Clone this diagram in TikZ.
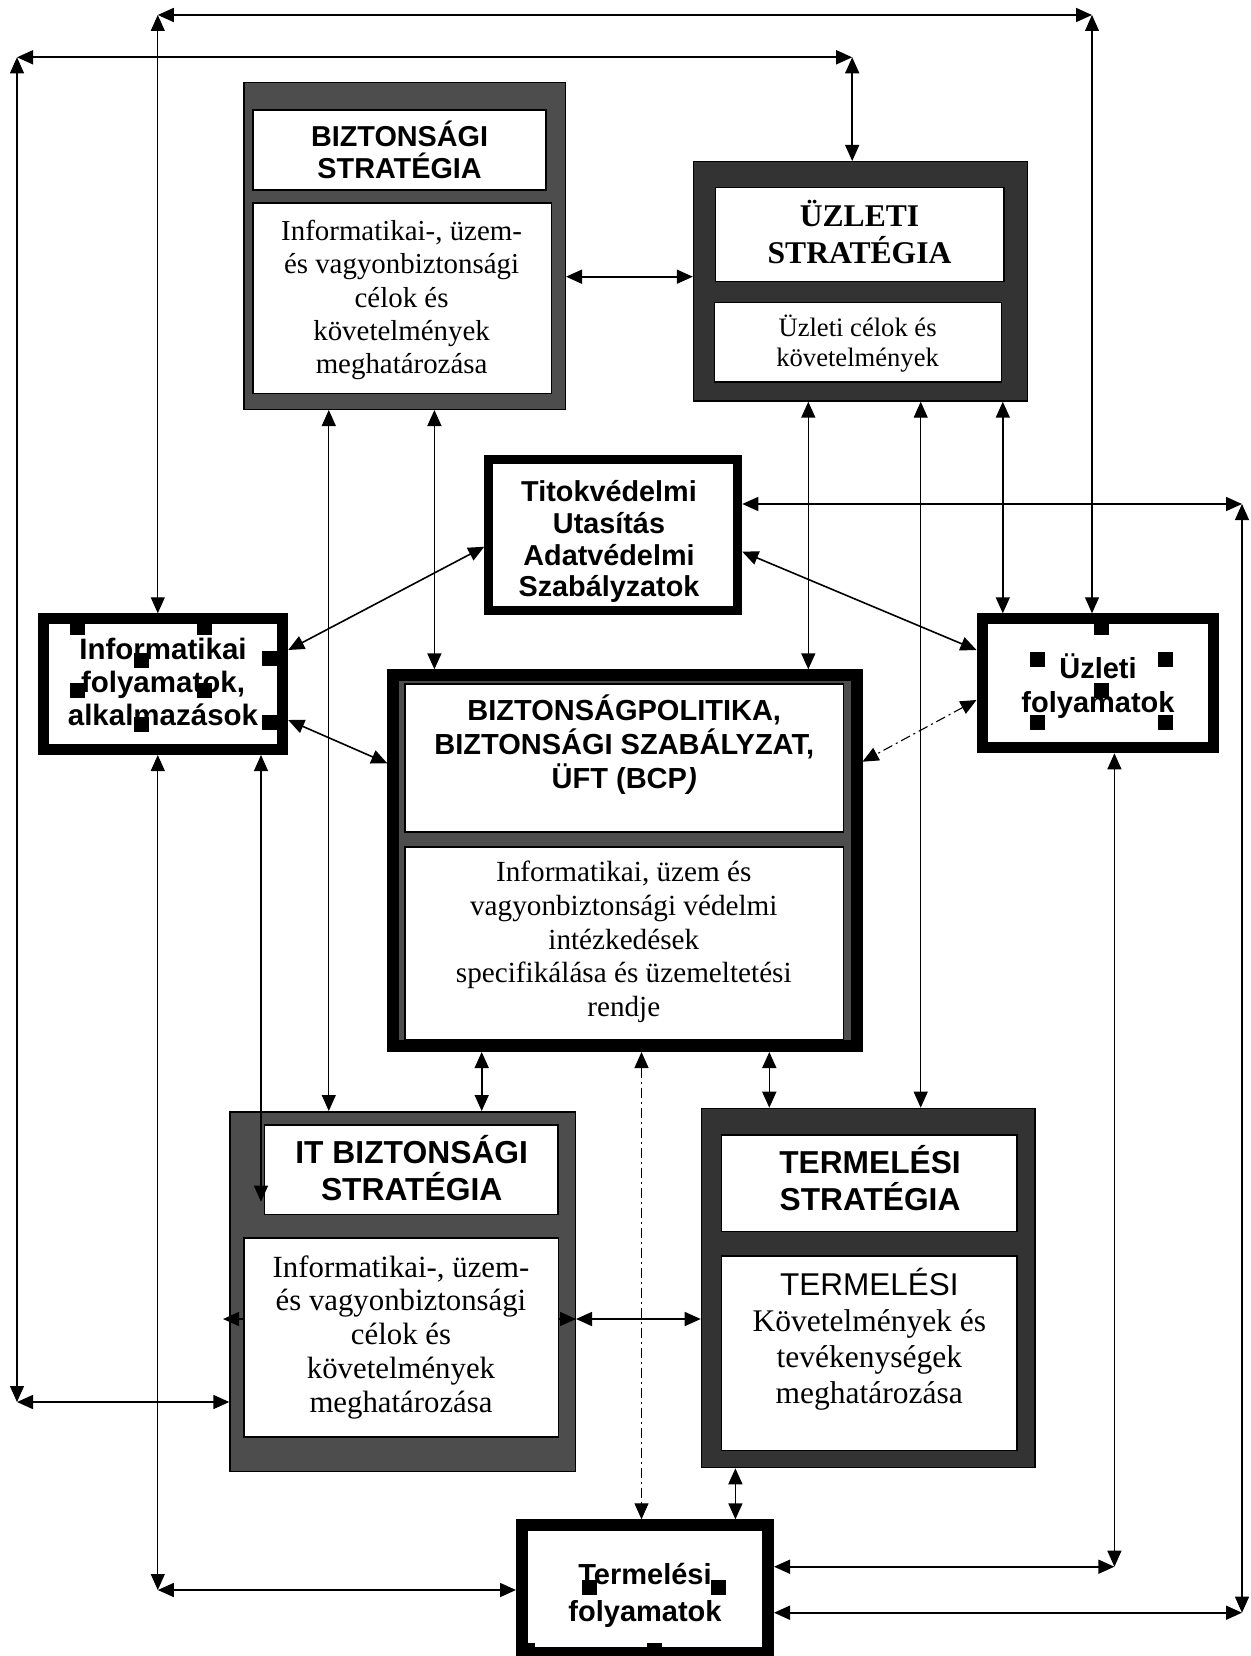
\documentclass[tikz,border=0pt]{standalone}
\usepackage{fontspec}
\setmainfont{Liberation Serif}
\newfontfamily\arialf{Liberation Sans}
\usetikzlibrary{arrows.meta}
\definecolor{bsgray}{HTML}{4D4D4D}
\definecolor{usgray}{HTML}{333333}
% centred lines with a fixed baseline distance; baseline of the box = first line
\newcommand\stack[1]{\vtop{\halign{\hfil##\hfil\cr#1\crcr}}}
\newcommand\fs[2]{\fontsize{#1}{#2}\selectfont}
\begin{document}
\begin{tikzpicture}[x=1pt,y=-1pt,
  >={Triangle[length=16pt,width=14pt]},
  frame/.style={draw=black,line width=1.5pt,inner sep=0pt,anchor=north west},
  panel/.style={frame,fill=white},
  proc/.style={draw=black,fill=white,inner sep=0pt,anchor=north west},
  txt/.style={inner sep=0pt,anchor=base},
  conn/.style={<->,line width=1.6pt},
  longconn/.style={<->,line width=1.1pt},
  stub/.style={->,line width=1.6pt},
  dashdot/.style={<->,line width=1.1pt,dash pattern=on 10pt off 4pt on 2pt off 4pt},
]
\fill[white] (0,0) rectangle (1250,1656);
\useasboundingbox (0,0) rectangle (1250,1656);

% ---------- strategy boxes ----------
\node[frame,fill=bsgray,minimum width=321.4pt,minimum height=326.8pt] (bs) at (243.1,81.7) {};
\node[panel,minimum width=293pt,minimum height=80.2pt] (bs-h) at (252.3,109.3) {};
\node[panel,minimum width=298.2pt,minimum height=190.2pt] (bs-b) at (252.3,202.3) {};

\node[frame,fill=usgray,minimum width=334pt,minimum height=239.2pt] (us) at (692.8,161) {};
\node[panel,minimum width=288.6pt,minimum height=94.1pt] (us-h) at (714.7,186.7) {};
\node[panel,minimum width=287pt,minimum height=79.5pt] (us-b) at (713.5,301.7) {};

\node[frame,fill=bsgray,minimum width=345.2pt,minimum height=359.8pt] (it) at (229.3,1111) {};
\node[panel,minimum width=293.5pt,minimum height=89.2pt] (it-h) at (263.8,1124.3) {};
\node[panel,minimum width=314.2pt,minimum height=198.9pt] (it-b) at (243.3,1237.3) {};

\node[frame,fill=usgray,minimum width=333.3pt,minimum height=359.1pt] (ts) at (700.7,1107.7) {};
\node[panel,minimum width=295.4pt,minimum height=96.8pt] (ts-h) at (720.7,1134) {};
\node[panel,minimum width=295.4pt,minimum height=194.5pt] (ts-b) at (720.7,1255) {};

% ---------- policy box ----------
\node[proc,fill=bsgray,line width=12pt,minimum width=463.2pt,minimum height=370.7pt] (bcp) at (387.3,669.3) {};
\node[panel,minimum width=438.8pt,minimum height=147.9pt] (bcp-h) at (404,683.3) {};
\node[panel,minimum width=438.8pt,minimum height=192.5pt] (bcp-b) at (404,846) {};

% ---------- process boxes ----------
\node[proc,line width=9pt,minimum width=249pt,minimum height=151pt] (tv) at (484.3,455) {};
\node[proc,line width=11pt,minimum width=239.3pt,minimum height=130.7pt] (if) at (37.9,613.3) {};
\node[proc,line width=11pt,minimum width=231.4pt,minimum height=129pt] (uf) at (976.5,613.3) {};
\node[proc,line width=12pt,minimum width=246pt,minimum height=127.7pt] (tf) at (516,1519.3) {};

% ---------- texts ----------
\node[txt,font=\arialf\bfseries\fs{28.8}{32.3}] (bs-ht) at (399.6,146.7) {\stack{BIZTONSÁGI\cr STRATÉGIA}};
\node[txt,font=\fs{28.9}{33.5}] (bs-bt) at (401.6,240) {\stack{Informatikai-, üzem-\cr és vagyonbiztonsági\cr célok és\cr követelmények\cr meghatározása}};
\node[txt,font=\bfseries\fs{31.6}{36.7}] (us-ht) at (859.5,226.7) {\stack{ÜZLETI\cr STRATÉGIA}};
\node[txt,font=\fs{26.6}{30}] (us-bt) at (857.6,336) {\stack{Üzleti célok és\cr követelmények}};
\node[txt,font=\arialf\bfseries\fs{28.8}{31.7}] (tv-t) at (609,501.7) {\stack{Titokvédelmi\cr Utasítás\cr Adatvédelmi\cr Szabályzatok}};
\node[txt,font=\arialf\bfseries\fs{29.5}{33.3}] (if-t) at (163,659) {\stack{Informatikai\cr folyamatok,\cr alkalmazások}};
\node[txt,font=\arialf\bfseries\fs{29}{34.4}] (uf-t) at (1098,678.3) {\stack{Üzleti\cr folyamatok}};
\node[txt,font=\arialf\bfseries\fs{29}{34.2}] (bcp-ht) at (624.2,720) {\stack{BIZTONSÁGPOLITIKA,\cr BIZTONSÁGI SZABÁLYZAT,\cr ÜFT (BCP\textit{)}}};
\node[txt,font=\fs{29.2}{33.75}] (bcp-bt) at (623.8,881.7) {\stack{Informatikai, üzem és\cr vagyonbiztonsági védelmi\cr intézkedések\cr specifikálása és üzemeltetési\cr rendje}};
\node[txt,font=\arialf\bfseries\fs{31.8}{36.7}] (it-ht) at (411.7,1163.3) {\stack{IT BIZTONSÁGI\cr STRATÉGIA}};
\node[txt,font=\fs{30.8}{33.75}] (it-bt) at (401,1277) {\stack{Informatikai-, üzem-\cr és vagyonbiztonsági\cr célok és\cr követelmények\cr meghatározása}};
\node[txt,font=\arialf\bfseries\fs{31.7}{37.4}] (ts-ht) at (870,1173.3) {\stack{TERMELÉSI\cr STRATÉGIA}};
\node[txt,font=\fs{31.5}{36.3}] (ts-bt) at (869.3,1295) {\stack{{\arialf TERMELÉSI}\cr Követelmények és\cr tevékenységek\cr meghatározása}};
\node[txt,font=\arialf\bfseries\fs{29}{37.3}] (tf-t) at (645,1584) {\stack{Termelési\cr folyamatok}};

% ---------- selection handles ----------
\foreach \hx/\hy in {77.3/627.5,204.9/627.5,141.1/660,269/658.5,77.3/690.8,204.9/690.8,141.1/724,269/722.5,
  1101/627.5,1037.5/659.2,1165/659.2,1101/690.8,1037.5/722.5,1165/722.5,
  589.5/1587.5,718/1587,654/1650,527/1650.5}
  \fill (\hx-7.5,\hy-7.5) rectangle ++(15,15);

% ---------- routing points ----------
\coordinate (c1) at (157.8,15);
\coordinate (c2) at (1092,15);
\coordinate (c3) at (17,57.3);
\coordinate (c4) at (852.2,57.3);
\coordinate (c5) at (1242,504);
\coordinate (c6) at (1242,1612.7);
\coordinate (c7) at (17,1402);
\coordinate (c8) at (157.8,1590);
\coordinate (c9) at (1114.4,1566.7);
\coordinate (itin) at (261,1201.7);
\coordinate (itl) at (223,1319);
\coordinate (kC) at (261,0);
\coordinate (kD) at (328.8,0);
\coordinate (kE) at (434.4,0);
\coordinate (kF) at (481.7,0);
\coordinate (kG) at (641.5,0);
\coordinate (kH) at (735.4,0);
\coordinate (kI) at (769.3,0);
\coordinate (kJ) at (808.3,0);
\coordinate (kL) at (920.7,0);
\coordinate (kM) at (1002.8,0);
\coordinate (rC) at (0,276.7);
\coordinate (rD) at (0,504);
\coordinate (rE) at (0,1319);
\coordinate (d1) at (0,546.7);
\coordinate (d2) at (0,650);
\coordinate (d3) at (0,551.7);
\coordinate (d4) at (0,720);
\coordinate (d5) at (0,763.3);
\coordinate (d6) at (0,700);
\coordinate (d7) at (0,761.7);

% ---------- connectors ----------
\draw[conn] (c1) -- (c2);
\draw[longconn] (c1) -- (c1 |- if.north);
\draw[longconn] (c2) -- (c2 |- uf.north);
\draw[conn] (c3) -- (c4);
\draw[conn] (c4) -- (c4 |- us.north);
\draw[longconn] (c3) -- (c7);
\draw[conn] (c7) -- (c7 -| it.west);
\draw[conn] (bs.east |- rC) -- (us.west |- rC);
\draw[longconn] (kD |- bs.south) -- (kD |- it.north);
\draw[conn] (kE |- bs.south) -- (kE |- bcp.north);
\draw[conn] (kJ |- us.south) -- (kJ |- bcp.north);
\draw[longconn] (kL |- us.south) -- (kL |- ts.north);
\draw[conn] (kM |- us.south) -- (kM |- uf.north);
\draw[conn] (tv.east |- rD) -- (c5);
\draw[longconn] (c5) -- (c6);
\draw[conn] (c6) -- (c6 -| tf.east);
\draw[conn] (tv.west |- d1) -- (if.east |- d2);
\draw[conn] (tv.east |- d3) -- (uf.west |- d2);
\draw[conn] (if.east |- d4) -- (bcp.west |- d5);
\draw[dashdot] (uf.west |- d6) -- (bcp.east |- d7);
\draw[longconn] (c8 |- if.south) -- (c8);
\draw[conn] (c8) -- (c8 -| tf.west);
\draw[longconn] (kC |- if.south) -- (itin);
\draw[conn] (kF |- bcp.south) -- (kF |- it.north);
\draw[dashdot] (kG |- bcp.south) -- (kG |- tf.north);
\draw[conn] (kI |- bcp.south) -- (kI |- ts.north);
\draw[conn] (kH |- ts.south) -- (kH |- tf.north);
\draw[longconn] (c9 |- uf.south) -- (c9);
\draw[conn] (c9) -- (c9 -| tf.east);
\draw[conn] (it.east |- rE) -- (ts.west |- rE);
\draw[stub] (it-b.east |- rE) -- (it.east |- rE);
\draw[stub] (it-b.west |- rE) -- (itl);
\end{tikzpicture}
\end{document}
